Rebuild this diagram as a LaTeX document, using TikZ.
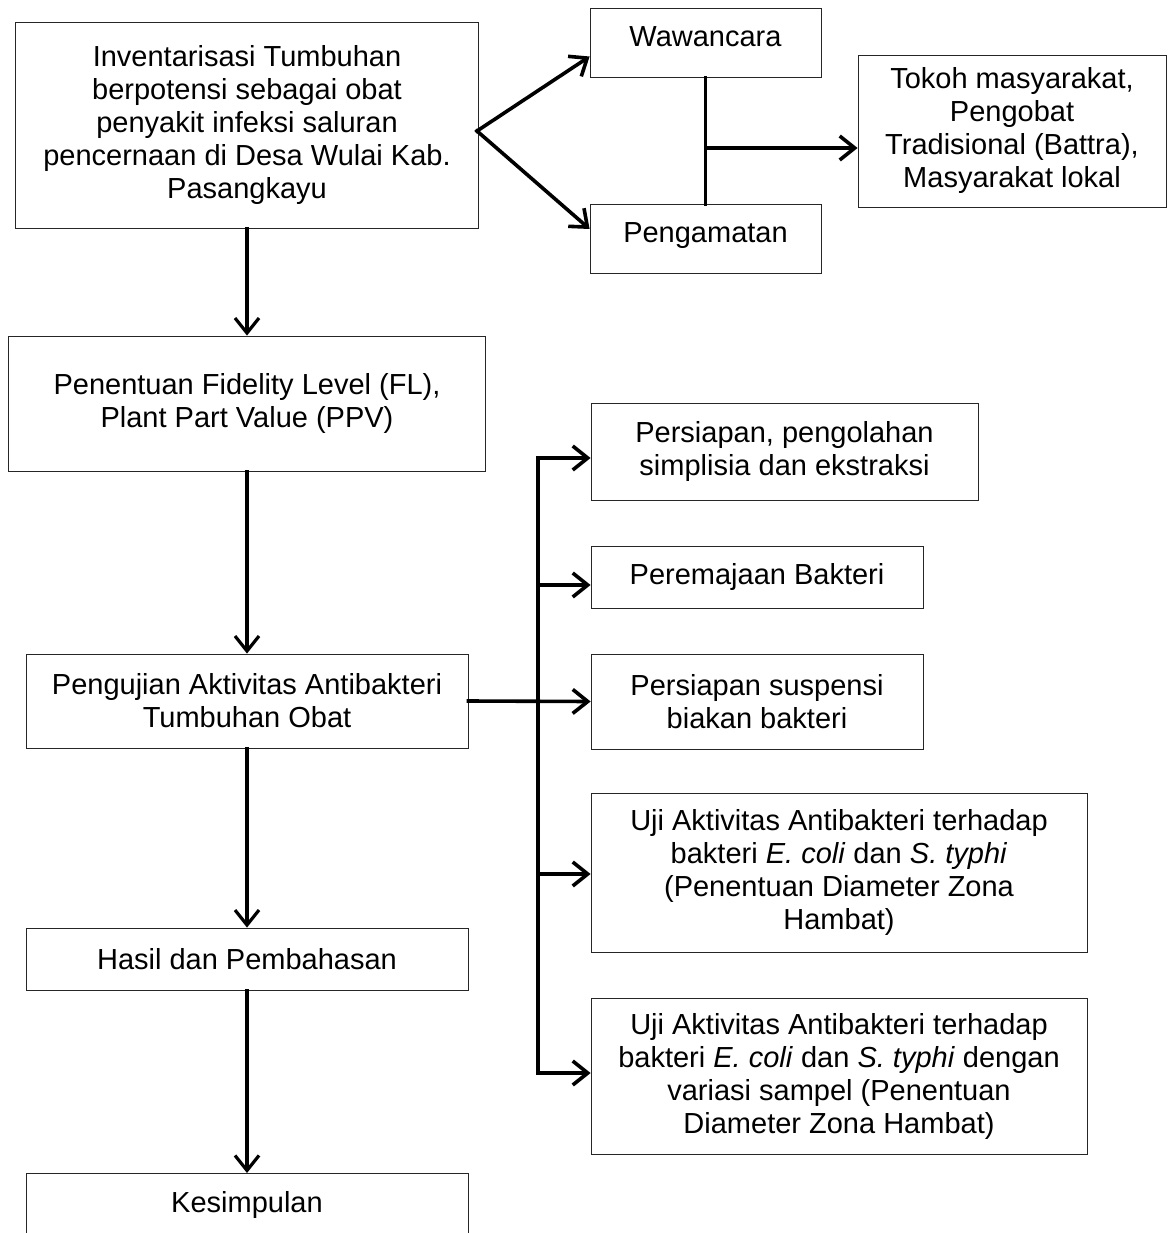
\documentclass[tikz,border=0pt]{standalone}
\usepackage{fontspec}
\setmainfont{Liberation Sans}
\usetikzlibrary{arrows.meta}

\tikzstyle{kotak} = [draw=black!85, line width=0.8pt, rectangle, inner sep=0pt,
    align=center, font=\fontsize{29}{33}\selectfont]
\tikzstyle{garis} = [line width=3.6pt, line cap=rect]
\tikzstyle{panah} = [garis, -{Straight Barb[length=15pt,width=24pt]}]

\begin{document}
\begin{tikzpicture}[x=1pt, y=-1pt]
\useasboundingbox (0,0) rectangle (1167,1233);

\node[kotak, minimum width=463pt, minimum height=206pt] (inv) at (247,125) {Inventarisasi Tumbuhan\\berpotensi sebagai obat\\penyakit infeksi saluran\\pencernaan di Desa Wulai Kab.\\Pasangkayu};
\node[kotak, minimum width=231pt, minimum height=69pt, text depth=12pt] (waw) at (705.5,42.5) {Wawancara};
\node[kotak, minimum width=231pt, minimum height=69pt, text depth=12pt] (amat) at (705.5,239) {Pengamatan};
\node[kotak, minimum width=308pt, minimum height=152pt] (tokoh) at (1012,131) {Tokoh masyarakat,\\Pengobat\\Tradisional (Battra),\\Masyarakat lokal};
\node[kotak, minimum width=477pt, minimum height=135pt] (fl) at (247,403.5) {Penentuan Fidelity Level (FL),\\Plant Part Value (PPV)};
\node[kotak, minimum width=442pt, minimum height=94pt] (uji) at (247,701) {Pengujian Aktivitas Antibakteri\\Tumbuhan Obat};
\node[kotak, minimum width=442pt, minimum height=62pt] (hasil) at (247,959) {Hasil dan Pembahasan};
\node[kotak, minimum width=442pt, inner ysep=18pt, text depth=50pt, anchor=north] (simpul) at (247,1173) {Kesimpulan};

\node[kotak, minimum width=387pt, minimum height=97pt] (olah) at (784.5,451.5) {Persiapan, pengolahan\\simplisia dan ekstraksi};
\node[kotak, minimum width=332pt, minimum height=62pt] (remaja) at (757,577) {Peremajaan Bakteri};
\node[kotak, minimum width=332pt, minimum height=95pt] (suspensi) at (757,701.5) {Persiapan suspensi\\biakan bakteri};
\node[kotak, minimum width=496pt, minimum height=159pt] (ujia) at (839,872.5) {Uji Aktivitas Antibakteri terhadap\\bakteri \textit{E. coli} dan \textit{S. typhi}\\(Penentuan Diameter Zona\\Hambat)};
\node[kotak, minimum width=496pt, minimum height=156pt] (ujib) at (839,1076) {Uji Aktivitas Antibakteri terhadap\\bakteri \textit{E. coli} dan \textit{S. typhi} dengan\\variasi sampel (Penentuan\\Diameter Zona Hambat)};

\coordinate (cabang) at (477,131);
\coordinate (tengah) at (705.5,148);
\draw[panah] (cabang) -- ([yshift=-14pt]waw.west);
\draw[panah] (cabang) -- ([yshift=10pt]amat.west);
\draw[garis] (waw.south) -- (amat.north);
\draw[panah] (tengah) -- (tengah -| tokoh.west);

\draw[panah, line width=3.2pt] (inv.south) -- (fl.north);
\draw[panah, line width=3.2pt] (fl.south) -- (uji.north);
\draw[panah, line width=3.2pt] (uji.south) -- (hasil.north);
\draw[panah, line width=3.2pt] (hasil.south) -- (simpul.north);

\coordinate (b1) at (538,458);
\coordinate (b2) at (538,585);
\coordinate (b4) at (538,874);
\coordinate (b5) at (538,1073);
\draw[garis] (b1) -- (b5);
\draw[panah] (b1) -- (b1 -| olah.west);
\draw[panah] (b2) -- (b2 -| remaja.west);
\draw[panah] (uji.east) -- (suspensi.west);
\draw[panah] (b4) -- (b4 -| ujia.west);
\draw[panah] (b5) -- (b5 -| ujib.west);
\end{tikzpicture}
\end{document}
